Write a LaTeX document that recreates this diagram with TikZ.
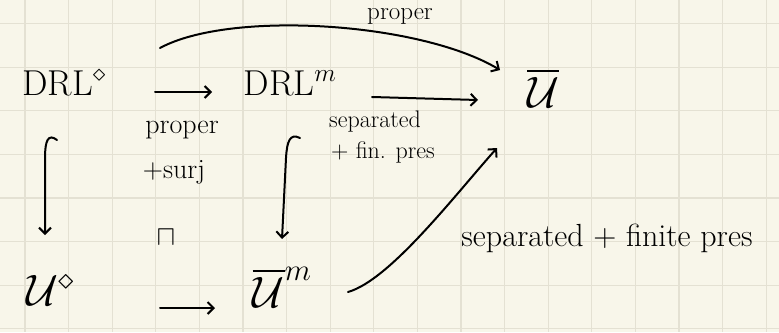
\RequirePackage{fix-cm}
\documentclass[tikz,border=0pt]{standalone}
\usepackage{amsmath,amssymb}
\usetikzlibrary{arrows.meta,calc}
\definecolor{paper}{HTML}{F8F6EA}
\definecolor{gridc}{HTML}{E4E1D3}
\begin{document}
\begin{tikzpicture}[x=1pt,y=-1pt,
  big/.style={inner sep=0pt,font=\fontsize{36}{40}\selectfont},
  cal/.style={inner sep=0pt,font=\fontsize{44}{48}\selectfont},
  lbl/.style={inner sep=0pt,font=\fontsize{28}{30}\selectfont},
  sml/.style={inner sep=0pt,font=\fontsize{24}{26}\selectfont},
  arr/.style={line width=2pt,line cap=round,-{Straight Barb[length=6pt,width=12pt,line width=2pt]}}]
\fill[paper] (0,0) rectangle (779,332);
\useasboundingbox (0,0) rectangle (779,332);
\foreach \k in {0,...,17} \draw[gridc,line width=1.2pt] ({25+43.6*\k},0) -- ({25+43.6*\k},332);
\foreach \k in {0,...,7} \draw[gridc,line width=1.2pt] (0,{23.5+43.6*\k}) -- (779,{23.5+43.6*\k});
% objects
\node[big] (DRLd) at (64,83) {DRL$^{\diamond}$};
\node[big] (DRLm) at (290,83) {DRL$^{m}$};
\node[cal] (Ub) at (543,88) {$\overline{\mathcal{U}}$};
\node[cal] (Ud) at (50,290) {$\mathcal{U}^{\diamond}$};
\node[cal] (Um) at (282,287) {$\overline{\mathcal{U}}^{m}$};
% labels
\node[lbl,font=\fontsize{25}{27}\selectfont] (l1) at (400,16) {proper};
\node[lbl] (l2) at (182,130) {proper};
\node[lbl] (l3) at (174,172) {+surj};
\node[sml] (l4) at (375,122) {separated};
\node[sml] (l5) at (383,152) {+ fin. pres};
\node[lbl,font=\fontsize{32}{34}\selectfont] (l6) at (607,238) {separated + finite pres};
\node[lbl] (pb) at (166,238) {$\sqcap$};
% arrows
\draw[arr] ($(DRLd)+(91,9)$) -- ($(DRLm)+(-78,9)$);
\draw[arr] ($(DRLm)+(82,14)$) -- ($(Ub)+(-65,12)$);
\draw[arr] ($(Ud)+(110,18)$) -- ($(Um)+(-67,21)$);
\draw[arr] ($(DRLd)+(96,-35)$) .. controls (230,10) and (420,22) .. ($(Ub)+(-43,-18)$);
\draw[arr] ($(Um)+(66,5)$) .. controls (390,280) and (455,195) .. ($(Ub)+(-46,60)$);
\draw[arr] ($(DRLd)+(-7,57)$) .. controls ($(DRLd)+(-16,50)$) and ($(DRLd)+(-19,58)$) .. ($(DRLd)+(-19,75)$) -- ($(Ud)+(-5,-55)$);
\draw[arr] ($(DRLm)+(10,55)$) .. controls ($(DRLm)+(0,50)$) and ($(DRLm)+(-3,58)$) .. ($(DRLm)+(-4,75)$) -- ($(Um)+(0,-48)$);
\end{tikzpicture}
\end{document}
